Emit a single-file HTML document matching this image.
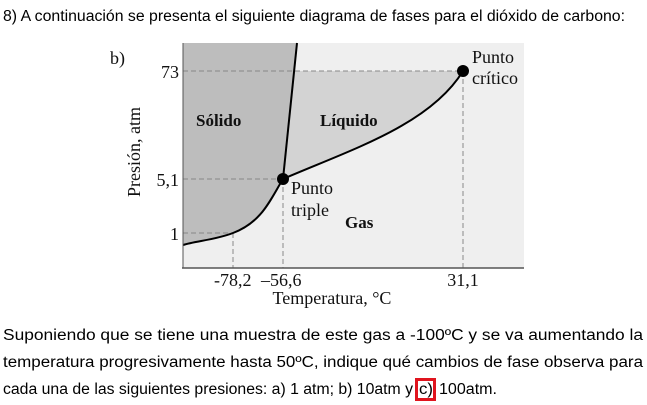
<!DOCTYPE html>
<html><head><meta charset="utf-8"><style>html,body{margin:0;padding:0;background:#fff}svg{display:block}</style></head>
<body>
<svg width="647" height="405" viewBox="0 0 647 405" xmlns="http://www.w3.org/2000/svg">
<g font-family="Liberation Sans, Arial, sans-serif" font-size="15.5" fill="#000">
<text x="3" y="21" textLength="622" lengthAdjust="spacingAndGlyphs">8) A continuación se presenta el siguiente diagrama de fases para el dióxido de carbono:</text>
<text x="3" y="340" textLength="640" lengthAdjust="spacingAndGlyphs">Suponiendo que se tiene una muestra de este gas a -100ºC y se va aumentando la</text>
<text x="3" y="367" textLength="640" lengthAdjust="spacingAndGlyphs">temperatura progresivamente hasta 50ºC, indique qué cambios de fase observa para</text>
<text x="3" y="394" textLength="410" lengthAdjust="spacingAndGlyphs">cada una de las siguientes presiones: a) 1 atm; b) 10atm y</text>
<text x="419" y="394" textLength="14" lengthAdjust="spacingAndGlyphs">c)</text>
<text x="439" y="394" textLength="58" lengthAdjust="spacingAndGlyphs">100atm.</text>
</g>
<rect x="416.5" y="379.5" width="18" height="20" fill="none" stroke="#e0141e" stroke-width="3"/>
<rect x="183" y="43" width="341" height="225" fill="#efefef"/>
<path d="M183,43 L297,43 L283,179 C270,200 262,222 233,233 C215,240 195,241 183,245 Z" fill="#bdbdbd"/>
<path d="M283,179 L294,71 L463,71 C430,125 350,150 283,179 Z" fill="#d3d3d3"/>
<g stroke="#888" stroke-width="1" stroke-dasharray="5,3" fill="none">
<line x1="183" y1="71" x2="463" y2="71"/>
<line x1="183" y1="179" x2="283" y2="179"/>
<line x1="183" y1="233" x2="233" y2="233"/>
<line x1="233" y1="233" x2="233" y2="268"/>
<line x1="283" y1="179" x2="283" y2="268"/>
<line x1="463" y1="71" x2="463" y2="268"/>
</g>
<g stroke="#000" stroke-width="2" fill="none">
<path d="M297,43 L283,179"/>
<path d="M183,245 C195,241 215,240 233,233 C262,222 270,200 283,179"/>
<path d="M283,179 C350,150 430,125 463,71"/>
</g>
<line x1="182" y1="268" x2="524" y2="268" stroke="#555" stroke-width="1.5"/>
<line x1="183" y1="43" x2="183" y2="268" stroke="#555" stroke-width="1"/>
<circle cx="283" cy="179" r="6" fill="#000"/>
<circle cx="463" cy="71" r="6" fill="#000"/>
<g font-family="Liberation Serif, Times New Roman, serif" font-size="18" fill="#111">
<text x="110" y="64">b)</text>
<text x="179" y="78" text-anchor="end">73</text>
<text x="179" y="186" text-anchor="end">5,1</text>
<text x="179" y="240" text-anchor="end">1</text>
<text x="214" y="286">-78,2</text>
<text x="261" y="286">–56,6</text>
<text x="463" y="286" text-anchor="middle">31,1</text>
<text x="332" y="304" text-anchor="middle">Temperatura, °C</text>
<text transform="translate(140,152) rotate(-90)" text-anchor="middle">Presión, atm</text>
<text x="291" y="194">Punto</text>
<text x="291" y="216">triple</text>
<text x="472" y="63">Punto</text>
<text x="472" y="84">crítico</text>
<g font-weight="bold" font-size="17">
<text x="196" y="126">Sólido</text>
<text x="320" y="126">Líquido</text>
<text x="345" y="228">Gas</text>
</g>
</g>
</svg>
</body></html>
